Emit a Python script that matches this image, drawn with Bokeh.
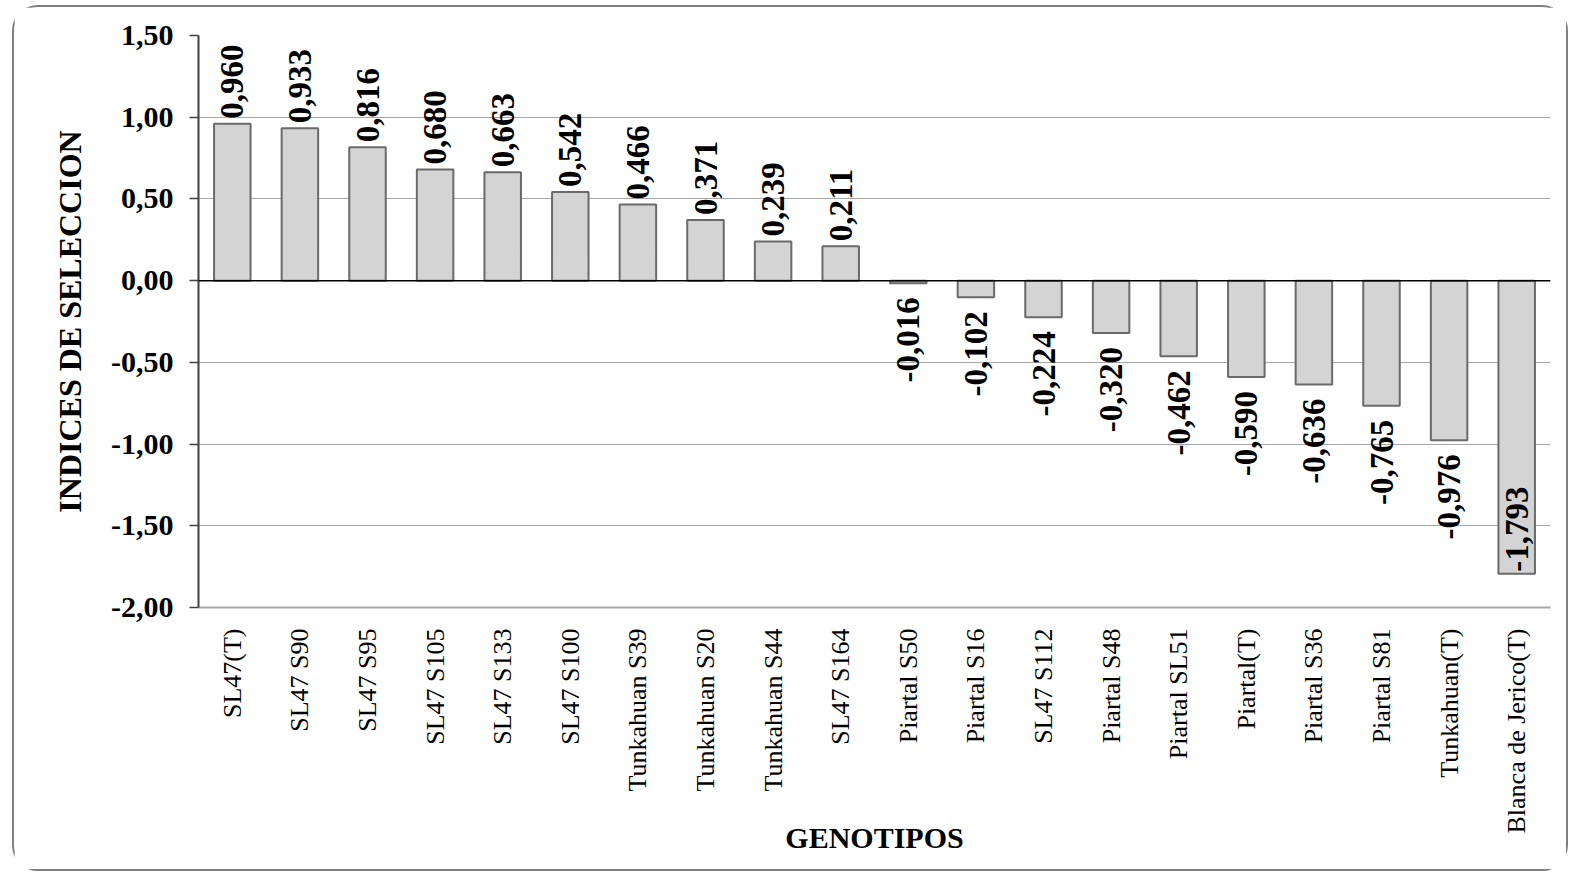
import math
from bokeh.plotting import figure
from bokeh.models import ColumnDataSource, Span, FixedTicker
from bokeh.core.properties import value
from bokeh.embed import file_html
from bokeh.resources import INLINE

genotipos = ["SL47(T)", "SL47 S90", "SL47 S95", "SL47 S105", "SL47 S133", "SL47 S100",
             "Tunkahuan S39", "Tunkahuan S20", "Tunkahuan S44", "SL47 S164",
             "Piartal S50", "Piartal S16", "SL47 S112", "Piartal S48", "Piartal SL51",
             "Piartal(T)", "Piartal S36", "Piartal S81", "Tunkahuan(T)", "Blanca de Jerico(T)"]
indices = [0.960, 0.933, 0.816, 0.680, 0.663, 0.542, 0.466, 0.371, 0.239, 0.211,
           -0.016, -0.102, -0.224, -0.320, -0.462, -0.590, -0.636, -0.765, -0.976, -1.793]
y_ticks = [-2.0, -1.5, -1.0, -0.5, 0.0, 0.5, 1.0, 1.5]

SERIF = "Liberation Serif"

def fmt(v, d):
    return f"{v:.{d}f}".replace(".", ",")

labels = [fmt(v, 3) for v in indices]

p = figure(x_range=genotipos, y_range=(-2.0, 1.5), width=1556, height=866,
           output_backend="svg", toolbar_location=None,
           min_border_left=184, min_border_right=20, min_border_top=28, min_border_bottom=266)
p.styles = {"border": "2px solid #7f7f7f", "border-radius": "26px", "margin": "5px 0 0 12px"}
p.outline_line_color = None
p.background_fill_color = "white"

src = ColumnDataSource(dict(x=genotipos, top=indices, label=labels))
p.vbar(x="x", top="top", bottom=0, width=0.54, source=src,
       fill_color="#d4d4d4", line_color="#6a6a6a", line_width=2)

# zero line
p.add_layout(Span(location=0, dimension="width", line_color="black", line_width=1.5))

# value labels
pos = [i for i, v in enumerate(indices) if v >= 0]
neg = [i for i, v in enumerate(indices) if -1.5 < v < 0]
ins = [i for i, v in enumerate(indices) if v <= -1.5]

def sub(idx):
    return ColumnDataSource(dict(x=[genotipos[i] for i in idx],
                                 y=[indices[i] for i in idx],
                                 t=[labels[i] for i in idx]))

common = dict(angle=math.pi / 2, text_font=value(SERIF), text_font_style="bold",
              text_font_size="33px", text_color="black", text_baseline="middle")
p.text(x="x", y="y", text="t", source=sub(pos), text_align="left", y_offset=-5, **common)
p.text(x="x", y="y", text="t", source=sub(neg), text_align="right", y_offset=14, **common)
p.text(x="x", y="y", text="t", source=sub(ins), text_align="left", y_offset=-2, **common)

# grid
p.xgrid.grid_line_color = None
p.ygrid.grid_line_color = "#a6a6a6"
p.ygrid.grid_line_width = 1.2
p.ygrid.ticker = FixedTicker(ticks=y_ticks)

# y axis
p.yaxis.ticker = FixedTicker(ticks=y_ticks)
p.yaxis.major_label_overrides = {t: fmt(t, 2) for t in y_ticks}
p.yaxis.major_label_text_font = SERIF
p.yaxis.major_label_text_font_style = "bold"
p.yaxis.major_label_text_font_size = "30px"
p.yaxis.major_label_text_color = "black"
p.yaxis.major_tick_out = 9
p.yaxis.major_tick_in = 0
p.yaxis.minor_tick_line_color = None
p.yaxis.major_tick_line_color = "#404040"
p.yaxis.major_tick_line_width = 1.5
p.yaxis.axis_line_color = "#404040"
p.yaxis.axis_line_width = 2
p.yaxis.major_label_standoff = 16
p.yaxis.axis_label = "INDICES DE SELECCION"
p.yaxis.axis_label_text_font = SERIF
p.yaxis.axis_label_text_font_style = "bold"
p.yaxis.axis_label_text_font_size = "32px"
p.yaxis.axis_label_text_color = "black"
p.yaxis.axis_label_standoff = 20

# x axis
p.xaxis.axis_line_color = "#a6a6a6"
p.xaxis.axis_line_width = 2
p.xaxis.major_tick_line_color = None
p.xaxis.minor_tick_line_color = None
p.xaxis.major_label_orientation = math.pi / 2
p.xaxis.major_label_text_font = SERIF
p.xaxis.major_label_text_font_style = "normal"
p.xaxis.major_label_text_font_size = "26px"
p.xaxis.major_label_text_color = "black"
p.xaxis.major_label_standoff = 15
p.xaxis.axis_label = "GENOTIPOS"
p.xaxis.axis_label_text_font = SERIF
p.xaxis.axis_label_text_font_style = "bold"
p.xaxis.axis_label_text_font_size = "30px"
p.xaxis.axis_label_text_color = "black"
p.xaxis.axis_label_standoff = -16

open("out.html", "w").write(file_html(p, INLINE))
